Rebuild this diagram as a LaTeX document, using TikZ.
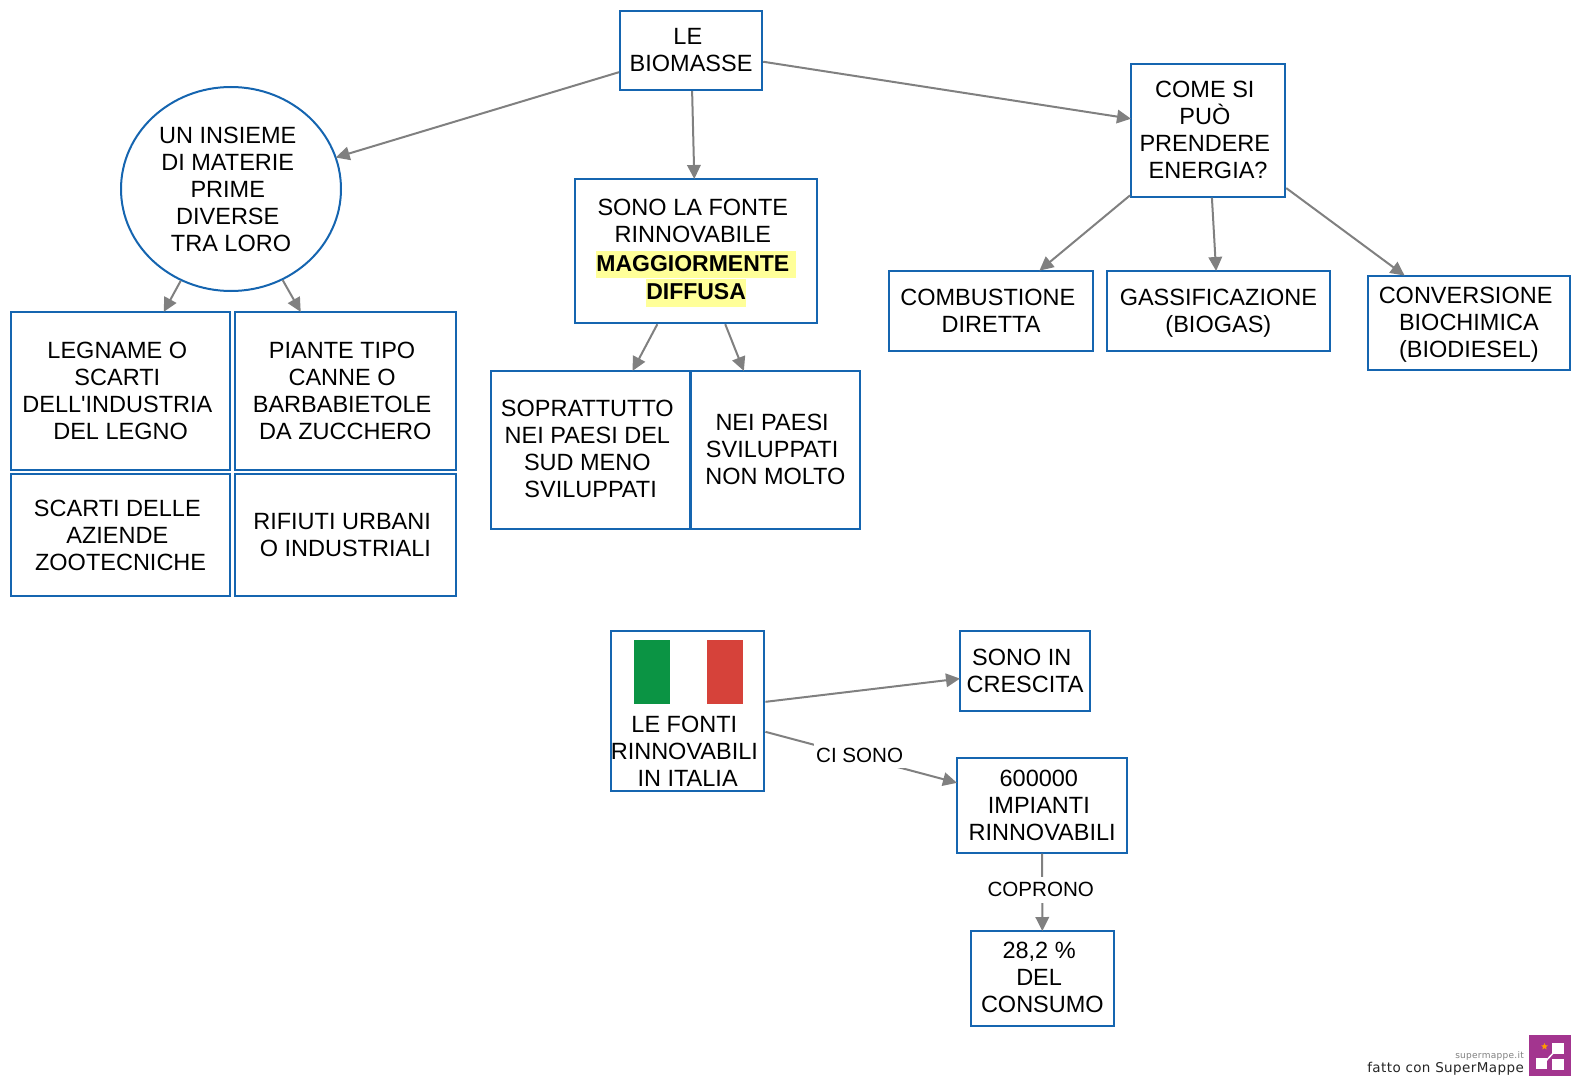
\documentclass[tikz,border=0pt]{standalone}
\usepackage{fontspec}
\setmainfont{Liberation Sans}[Ligatures=TeXOff]
\newfontfamily\logofont{DejaVu Sans}[LetterSpace=3]
\usetikzlibrary{arrows.meta,shapes.geometric}
\definecolor{boxblue}{HTML}{1565B0}
\definecolor{edgegray}{HTML}{808080}
\definecolor{hiyellow}{HTML}{FFFF99}
\definecolor{flaggreen}{HTML}{0B9444}
\definecolor{flagred}{HTML}{D6423A}
\definecolor{logopurple}{HTML}{A3358F}
\newcommand{\ws}{\kern6.5pt\relax}
\newcommand{\tb}[2]{\raisebox{#1}[0pt][0pt]{\begin{tabular}[c]{@{}c@{}}#2\end{tabular}}}
\newcommand{\hl}[1]{\setlength{\fboxsep}{0pt}\colorbox{hiyellow}{\rule[-7pt]{0pt}{27.5pt}\fontsize{23}{27}\selectfont\textbf{#1}}}
\tikzset{
  every node/.style={font=\fontsize{23.5}{27}\selectfont,text=black},
  rbox/.style={draw=boxblue,line width=2pt,fill=white,inner sep=0pt,rectangle},
  conn/.style={draw=edgegray,line width=2pt,shorten >=-1pt,-{Triangle[length=14pt,width=13.5pt]}},
  elabel/.style={fill=white,inner xsep=2pt,inner ysep=0pt,minimum height=26pt,font=\fontsize{20.6}{24}\selectfont},
}
\newcommand{\bx}[7]{% style,name,x1,y1,x2,y2,text
  \pgfmathsetmacro{\bcx}{(#3+#5)/2-0.4}\pgfmathsetmacro{\bcy}{(#4+#6)/2-0.4}
  \pgfmathsetmacro{\bbw}{#5-#3-0.8}\pgfmathsetmacro{\bbh}{#6-#4-0.8}
  \node[#1,minimum width=\bbw pt,minimum height=\bbh pt] (#2) at (\bcx,\bcy) {#7};}
\begin{document}
\begin{tikzpicture}[x=1pt,y=-1pt]
\useasboundingbox (0,0) rectangle (1580,1086);
\bx{rbox}{bio}{620}{11}{763}{91}{\tb{-8pt}{LE\ws\\BIOMASSE}}
\node[draw=boxblue,line width=2pt,fill=white,ellipse,inner sep=0pt,minimum width=220pt,minimum height=204pt] (ins) at (231,189)
  {\tb{-9pt}{UN INSIEME\ws\\DI MATERIE\ws\\PRIME\ws\\DIVERSE\ws\\TRA LORO}};
\bx{rbox}{sono}{575}{179}{818}{324}{\tb{-7.5pt}{SONO LA FONTE\ws\\RINNOVABILE\ws\\\hl{MAGGIORMENTE\ws}\\\hl{DIFFUSA}}}
\bx{rbox}{come}{1131}{64.5}{1286}{197.5}{\tb{-8.5pt}{COME SI\ws\\\smash{PUÒ}\ws\\PRENDERE\ws\\ENERGIA?}}
\bx{rbox}{legn}{11}{312}{231}{470.5}{\tb{-9pt}{LEGNAME O\ws\\SCARTI\ws\\DELL'INDUSTRIA\ws\\DEL LEGNO}}
\bx{rbox}{pian}{235}{312}{456.5}{470.5}{\tb{-9pt}{PIANTE TIPO\ws\\CANNE O\ws\\BARBABIETOLE\ws\\DA ZUCCHERO}}
\bx{rbox}{scar}{11}{474}{231}{596.5}{\tb{-9pt}{SCARTI DELLE\ws\\AZIENDE\ws\\ZOOTECNICHE}}
\bx{rbox}{rifi}{235}{474}{456.5}{596.5}{\tb{-9pt}{RIFIUTI URBANI\ws\\O INDUSTRIALI}}
\bx{rbox}{sopr}{491}{371}{691}{530}{\tb{-8pt}{SOPRATTUTTO\ws\\NEI PAESI DEL\ws\\SUD MENO\ws\\SVILUPPATI}}
\bx{rbox}{nei}{691}{371}{860.5}{530}{\tb{-8pt}{NEI PAESI\ws\\SVILUPPATI\ws\\NON MOLTO}}
\bx{rbox}{comb}{889}{271}{1094}{351.5}{\tb{-8.5pt}{COMBUSTIONE\ws\\DIRETTA}}
\bx{rbox}{gass}{1106.5}{271}{1331}{351.5}{\tb{-8.5pt}{GASSIFICAZIONE\\(BIOGAS)}}
\bx{rbox}{conv}{1367.5}{276}{1571}{371}{\tb{-8.5pt}{CONVERSIONE\ws\\BIOCHIMICA\\(BIODIESEL)}}
\bx{rbox}{ital}{611}{631}{765}{792}{\tb{-49pt}{LE FONTI\ws\\RINNOVABILI\ws\\IN ITALIA}}
\bx{rbox}{cres}{960}{631}{1091}{711.5}{\tb{-9pt}{SONO IN\ws\\CRESCITA}}
\bx{rbox}{imp}{957}{758}{1128}{853.5}{\tb{-9pt}{600000\ws\\IMPIANTI\ws\\RINNOVABILI}}
\bx{rbox}{cons}{971}{931}{1114.5}{1027}{\tb{-8pt}{28,2 \%\ws\\DEL\ws\\CONSUMO}}
% flag
\fill[flaggreen] (634,640) rectangle (670,704);
\fill[flagred] (707,640) rectangle (743,704);
% connectors
\draw[conn] (bio) -- (ins);
\draw[conn] (bio) -- (sono);
\draw[conn] (bio) -- (come);
\draw[conn] (ins) -- (legn);
\draw[conn] (ins) -- (pian);
\draw[conn] (sono) -- (sopr);
\draw[conn] (sono) -- (nei);
\draw[conn] (come) -- (comb);
\draw[conn] (come) -- (gass);
\draw[conn] (come) -- (conv);
\draw[conn] (ital) -- (cres);
\draw[conn] (ital) -- node[pos=0.484,elabel,xshift=2pt,yshift=1pt] (lci) {CI SONO} (imp);
\draw[conn] (imp) -- node[pos=0.485,elabel,xshift=-1.5pt,yshift=1pt] (lco) {COPRONO} (cons);
% logo
\node[font=\logofont\fontsize{9}{10}\selectfont,text=gray,anchor=base east,inner sep=0pt] (lsite) at (1524,1058) {supermappe.it};
\node[font=\logofont\fontsize{13.5}{14}\selectfont,text=black!85,anchor=base east,inner sep=0pt] (lmade) at (1524,1072) {fatto con SuperMappe};
\fill[logopurple] (1529,1035) rectangle (1571,1076);
\draw[white,line width=1.5pt] (1556,1050) -- (1543,1064);
\fill[white] (1552,1043) rectangle (1564,1054);
\fill[white] (1536,1058) rectangle (1547,1069);
\fill[white] (1552,1059) rectangle (1564,1070);
\node[star,star points=5,star point ratio=2.2,fill=orange!80!yellow,inner sep=0pt,minimum size=7pt] (lstar) at (1544.5,1046.5) {};
\end{tikzpicture}
\end{document}
